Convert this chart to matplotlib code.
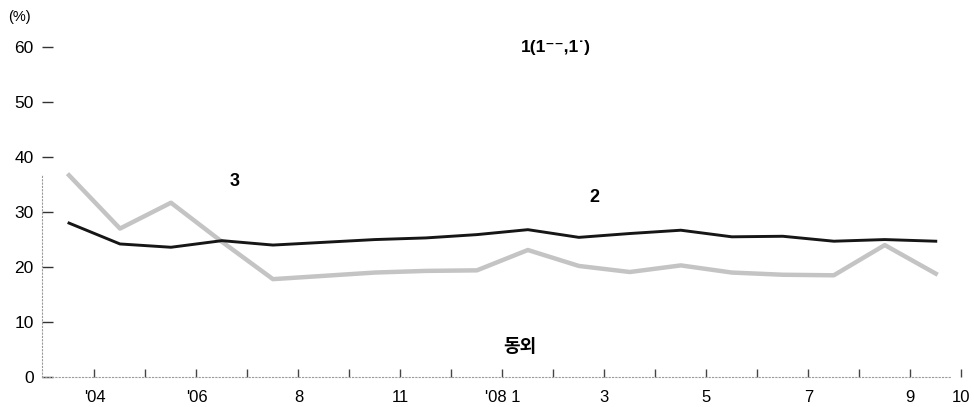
import matplotlib
matplotlib.use("Agg")
import matplotlib.pyplot as plt
import numpy as np

plt.rcParams['font.family'] = ['Liberation Sans', 'Noto Sans CJK KR', 'DejaVu Sans']

# Data
periods = list(range(18))
series_black = [28.0, 24.2, 23.6, 24.8, 24.0, 24.5, 25.0, 25.3, 25.9, 26.8, 25.4, 26.1, 26.7, 25.5, 25.6, 24.7, 25.0, 24.7]
series_gray = [36.7, 27.0, 31.7, 24.6, 17.8, 18.4, 19.0, 19.3, 19.4, 23.1, 20.2, 19.1, 20.3, 19.0, 18.6, 18.5, 24.0, 18.8]
xtick_pos = [0.5, 1.5, 2.5, 3.5, 4.5, 5.5, 6.5, 7.5, 8.5, 9.5, 10.5, 11.5, 12.5, 13.5, 14.5, 15.5, 16.5, 17.5]
xtick_labels = ["'04", "", "'06", "", "8", "", "11", "", "'08 1", "", "3", "", "5", "", "7", "", "9", "10"]
ytick_vals = [0, 10, 20, 30, 40, 50, 60]

fig = plt.figure(figsize=(9.74, 4.07), dpi=100)
ax = fig.add_axes([0.0431, 0.0737, 0.9569, 0.878])

ax.plot(periods, series_gray, color='#c4c4c4', lw=3.2, solid_joinstyle='round', zorder=2)
ax.plot(periods, series_black, color='#161616', lw=2.1, zorder=3)

ax.set_xlim(-0.53, 17.75)
ax.set_ylim(0, 65)

for s in ['top', 'right']:
    ax.spines[s].set_visible(False)
ax.spines['left'].set_bounds(0, 37)
ax.spines['left'].set_linestyle((0, (1, 2)))
ax.spines['left'].set_color('#9a9a9a')
ax.spines['left'].set_linewidth(0.8)
ax.spines['bottom'].set_bounds(-0.53, 17.3)
ax.spines['bottom'].set_linestyle((0, (1, 2)))
ax.spines['bottom'].set_color('#9a9a9a')
ax.spines['bottom'].set_linewidth(0.8)

ax.set_yticks(ytick_vals)
ax.set_yticklabels([str(v) for v in ytick_vals], fontsize=12.5)
ax.tick_params(axis='y', direction='in', length=8, width=1.0, color='#333333', pad=6)
ax.set_xticks(xtick_pos)
ax.set_xticklabels(xtick_labels, fontsize=12)
ax.tick_params(axis='x', direction='in', length=6, width=1.0, color='#444444', pad=9)

fig.text(0.008, 0.94, '(%)', fontsize=10.5, ha='left', va='bottom')

ax.text(9.55, 60, '1(1\u207b\u207b,1\u02d9)', fontsize=12.5, ha='center', va='center', fontweight='bold')
ax.text(3.25, 35.5, '3', fontsize=13, ha='center', va='center', fontweight='bold')
ax.text(10.3, 32.7, '2', fontsize=13, ha='center', va='center', fontweight='bold')
ax.text(8.85, 5.5, '동외', fontsize=13, ha='center', va='center', fontweight='bold',
        family=['Noto Sans CJK KR', 'DejaVu Sans'])

fig.savefig('out.png', dpi=100)
